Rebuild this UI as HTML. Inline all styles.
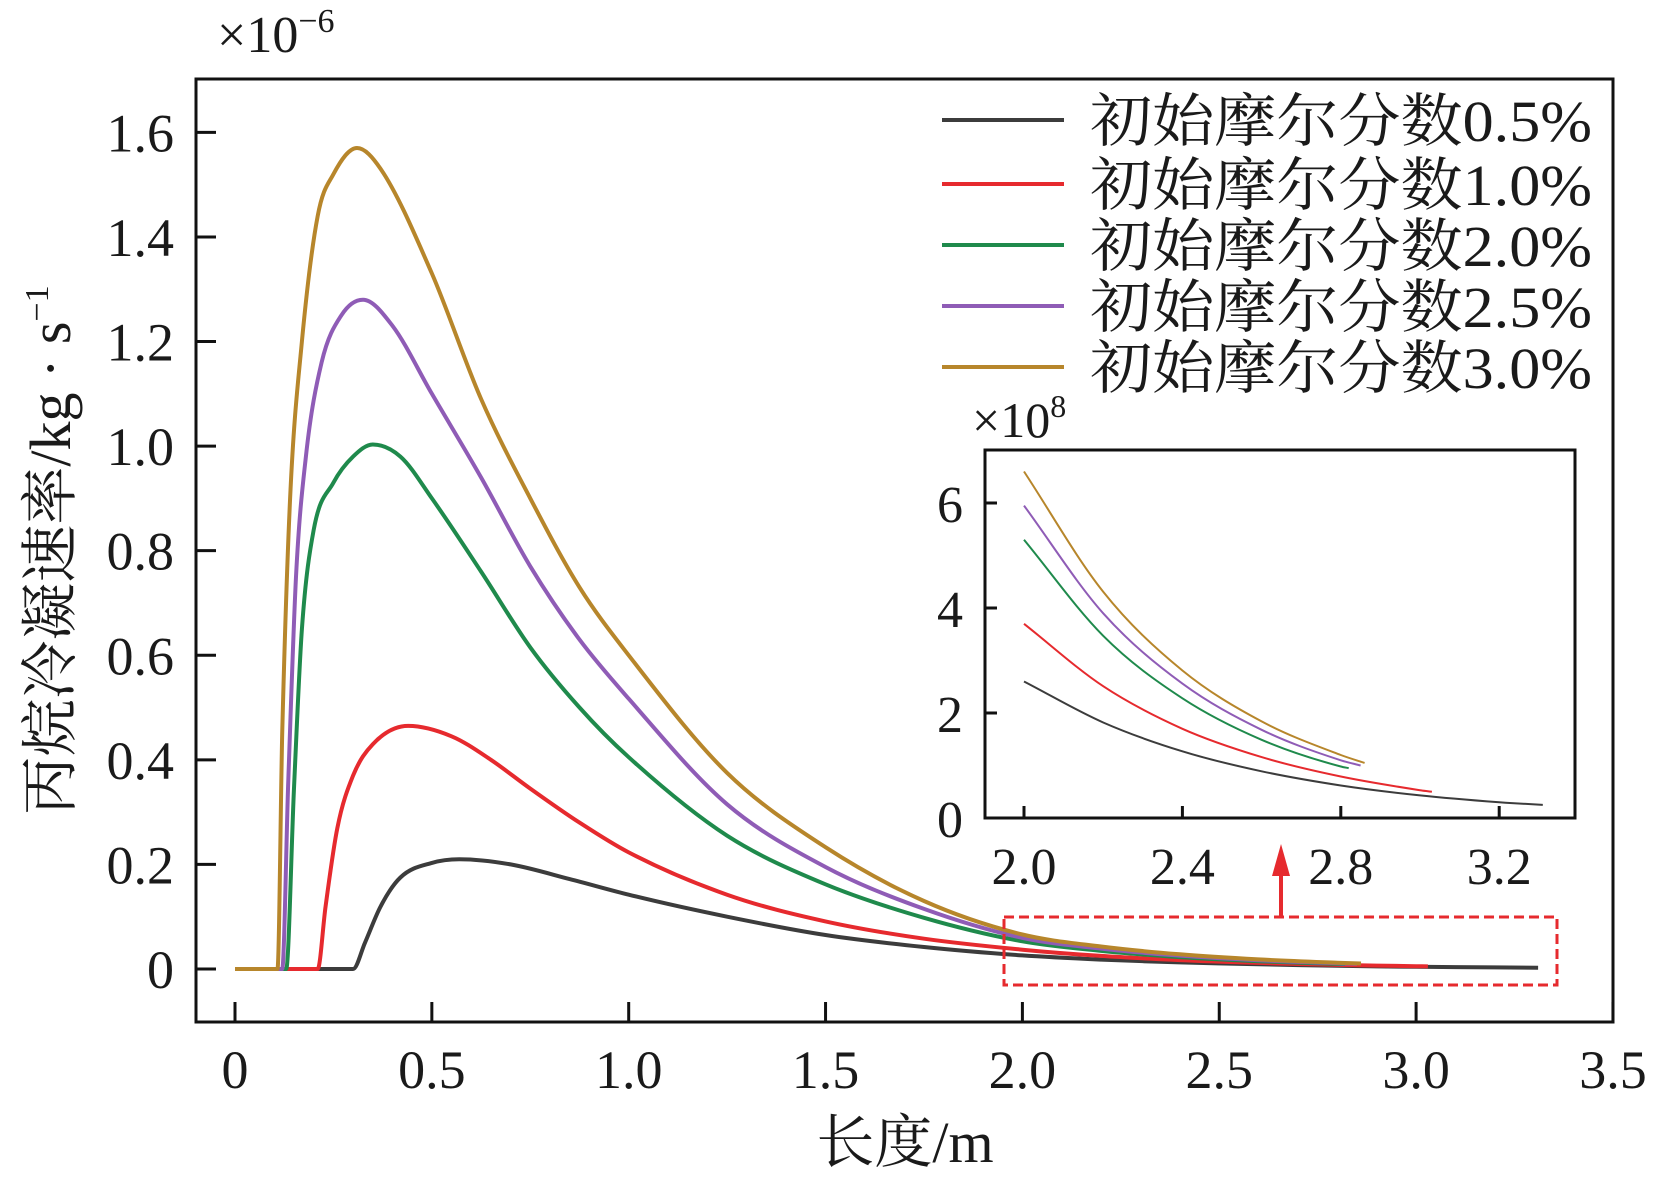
<!DOCTYPE html>
<html><head><meta charset="utf-8"><style>
html,body{margin:0;padding:0;background:#fff}
svg{display:block}
text{font-family:"Liberation Serif","Noto Serif CJK SC",serif;fill:#1a1a1a}
</style></head><body>
<svg id="chart" width="1659" height="1182" viewBox="0 0 1659 1182" xmlns="http://www.w3.org/2000/svg">
<g id="main"></g>
<g id="inset"></g>
<g id="legend"></g>
</svg>
<script>
const seriesNames = ["初始摩尔分数0.5%","初始摩尔分数1.0%","初始摩尔分数2.0%","初始摩尔分数2.5%","初始摩尔分数3.0%"];
const seriesColors = ["#3c3c3c","#e62a2e","#1f8a4c","#8f5cb6","#b7862b"];
const xTicks = [0,0.5,1.0,1.5,2.0,2.5,3.0,3.5];
const xTickLabels = ["0","0.5","1.0","1.5","2.0","2.5","3.0","3.5"];
const yTicks = [0,0.2,0.4,0.6,0.8,1.0,1.2,1.4,1.6];
const yTickLabels = ["0","0.2","0.4","0.6","0.8","1.0","1.2","1.4","1.6"];
const s05x = [0,0.3,0.33,0.37,0.42,0.5,0.57,0.7,0.85,1.0,1.25,1.5,1.75,2.0,2.2,2.4,2.6,2.8,3.0,3.2,3.31];
const s05y = [0,0,0.05,0.12,0.175,0.203,0.21,0.2,0.172,0.142,0.1,0.065,0.042,0.026,0.018,0.0127,0.0089,0.0062,0.0043,0.003,0.0025];
const s10x = [0,0.21,0.23,0.26,0.3,0.35,0.44,0.55,0.65,0.75,0.875,1.0,1.25,1.5,1.75,2.0,2.2,2.4,2.6,2.8,3.0,3.03];
const s10y = [0,0,0.12,0.27,0.37,0.43,0.465,0.445,0.4,0.345,0.28,0.223,0.142,0.091,0.058,0.037,0.025,0.017,0.0116,0.0079,0.0053,0.005];
const s20x = [0,0.13,0.15,0.17,0.2,0.25,0.3,0.35,0.42,0.5,0.625,0.75,0.875,1.0,1.25,1.5,1.75,2.0,2.2,2.4,2.6,2.8,2.82];
const s20y = [0,0,0.35,0.65,0.84,0.93,0.98,1.003,0.98,0.9,0.76,0.615,0.5,0.405,0.255,0.162,0.098,0.053,0.0347,0.0228,0.0149,0.0098,0.0095];
const s25x = [0,0.12,0.135,0.155,0.18,0.22,0.27,0.325,0.4,0.5,0.625,0.75,0.875,1.0,1.25,1.5,1.75,2.0,2.2,2.4,2.6,2.8,2.85];
const s25y = [0,0,0.35,0.75,0.98,1.16,1.25,1.28,1.23,1.1,0.94,0.77,0.63,0.517,0.315,0.195,0.115,0.0595,0.039,0.0256,0.0168,0.011,0.01];
const s30x = [0,0.108,0.12,0.14,0.17,0.21,0.25,0.31,0.37,0.5,0.625,0.75,0.875,1.0,1.25,1.5,1.75,2.0,2.2,2.4,2.6,2.8,2.86];
const s30y = [0,0,0.45,0.9,1.2,1.44,1.52,1.57,1.53,1.33,1.09,0.9,0.73,0.6,0.375,0.233,0.13,0.066,0.0431,0.0281,0.0184,0.012,0.0105];
const insetXTicks = [2.0,2.4,2.8,3.2];
const insetXTickLabels = ["2.0","2.4","2.8","3.2"];
const insetYTicks = [0,2,4,6];
const insetYTickLabels = ["0","2","4","6"];
const i05x = [2.0,2.2,2.4,2.6,2.8,3.0,3.2,3.31];
const i05y = [2.6,1.82,1.27,0.89,0.62,0.43,0.3,0.25];
const i10x = [2.0,2.2,2.4,2.6,2.8,3.0,3.03];
const i10y = [3.7,2.51,1.7,1.16,0.79,0.53,0.5];
const i20x = [2.0,2.2,2.4,2.6,2.8,2.82];
const i20y = [5.3,3.47,2.28,1.49,0.98,0.95];
const i25x = [2.0,2.2,2.4,2.6,2.8,2.85];
const i25y = [5.95,3.9,2.56,1.68,1.1,1.0];
const i30x = [2.0,2.2,2.4,2.6,2.8,2.86];
const i30y = [6.6,4.31,2.81,1.84,1.2,1.05];

const NS="http://www.w3.org/2000/svg";
function mk(parent,tag,attrs,txt){const e=document.createElementNS(NS,tag);for(const k in attrs)e.setAttribute(k,attrs[k]);if(txt!==undefined)e.textContent=txt;parent.appendChild(e);return e;}
// monotone cubic path (Fritsch-Carlson)
function monoPath(px,py){
  const n=px.length;if(n<2)return '';
  const d=[],m=new Array(n);
  for(let i=0;i<n-1;i++)d.push((py[i+1]-py[i])/(px[i+1]-px[i]));
  m[0]=d[0];m[n-1]=d[n-2];
  for(let i=1;i<n-1;i++){m[i]=(d[i-1]*d[i]<=0)?0:(d[i-1]+d[i])/2;}
  for(let i=0;i<n-1;i++){
    if(d[i]===0){m[i]=0;m[i+1]=0;continue;}
    const a=m[i]/d[i],b=m[i+1]/d[i],s=a*a+b*b;
    if(s>9){const t=3/Math.sqrt(s);m[i]=t*a*d[i];m[i+1]=t*b*d[i];}
  }
  let p='M'+px[0].toFixed(1)+','+py[0].toFixed(1);
  for(let i=0;i<n-1;i++){
    const h=(px[i+1]-px[i])/3;
    p+=' C'+(px[i]+h).toFixed(1)+','+(py[i]+m[i]*h).toFixed(1)+' '+(px[i+1]-h).toFixed(1)+','+(py[i+1]-m[i+1]*h).toFixed(1)+' '+px[i+1].toFixed(1)+','+py[i+1].toFixed(1);
  }
  return p;
}

// main axes
const L=196,T=79,R=1613,B=1022;
const X=v=>235+v*393.7;
const Y=v=>969-v*522.9;
const main=document.getElementById('main');
const mainS=[[s05x,s05y],[s10x,s10y],[s20x,s20y],[s25x,s25y],[s30x,s30y]];
mainS.forEach((s,i)=>{
  const p=mk(main,'path',{d:monoPath(s[0].map(X),s[1].map(Y)),fill:'none',stroke:seriesColors[i],'stroke-width':4,'stroke-linejoin':'round'});
  
  
});
const fr=mk(main,'rect',{x:L,y:T,width:R-L,height:B-T,fill:'none',stroke:'#111','stroke-width':3});


xTicks.forEach((v,i)=>{
  mk(main,'line',{x1:X(v),x2:X(v),y1:B,y2:B-20,stroke:'#111','stroke-width':3});
  const t=mk(main,'text',{x:X(v),y:1088,'font-size':54,'text-anchor':'middle'},xTickLabels[i]);
  
  
});
yTicks.forEach((v,i)=>{
  mk(main,'line',{x1:L,x2:L+20,y1:Y(v),y2:Y(v),stroke:'#111','stroke-width':3});
  const t=mk(main,'text',{x:174,y:Y(v)+19,'font-size':54,'text-anchor':'end'},yTickLabels[i]);
  
  
});
const xt=mk(main,'text',{x:905,y:1162,'font-size':58,'text-anchor':'middle'},'长度/m');


const yt=mk(main,'text',{x:0,y:0,'font-size':58,'text-anchor':'middle',transform:'translate(70,550) rotate(-90)'});


yt.innerHTML='丙烷冷凝速率/kg · s<tspan dy="-22" font-size="34">−1</tspan>';
const sc=mk(main,'text',{x:217,y:52,'font-size':52});


sc.innerHTML='×10<tspan dy="-20" font-size="34">−6</tspan>';
// dashed box + arrow
const db=mk(main,'rect',{x:1004,y:917,width:553,height:68,fill:'none',stroke:'#e62a2e','stroke-width':3,'stroke-dasharray':'10,5'});


mk(main,'line',{x1:1281,y1:917,x2:1281,y2:868,stroke:'#e62a2e','stroke-width':4});
const ar=mk(main,'polygon',{points:'1272,876 1290,876 1281,844',fill:'#e62a2e'});



// inset
const IL=985,IT=450,IR=1575,IB=818;
const IX=v=>1024+(v-2.0)*396;
const IY=v=>818-v*52.5;
const inset=document.getElementById('inset');
mk(inset,'rect',{x:IL,y:IT,width:IR-IL,height:IB-IT,fill:'#fff'});
const insS=[[i05x,i05y],[i10x,i10y],[i20x,i20y],[i25x,i25y],[i30x,i30y]];
insS.forEach((s,i)=>{
  const p=mk(inset,'path',{d:monoPath(s[0].map(IX),s[1].map(IY)),fill:'none',stroke:seriesColors[i],'stroke-width':2});
  
  
});
const ifr=mk(inset,'rect',{x:IL,y:IT,width:IR-IL,height:IB-IT,fill:'none',stroke:'#111','stroke-width':3});


insetXTicks.forEach((v,i)=>{
  mk(inset,'line',{x1:IX(v),x2:IX(v),y1:IB,y2:IB-12,stroke:'#111','stroke-width':3});
  const t=mk(inset,'text',{x:IX(v),y:884,'font-size':52,'text-anchor':'middle'},insetXTickLabels[i]);
  
  
});
insetYTicks.forEach((v,i)=>{
  mk(inset,'line',{x1:IL,x2:IL+12,y1:IY(v),y2:IY(v),stroke:'#111','stroke-width':3});
  const t=mk(inset,'text',{x:963,y:IY(v)+19,'font-size':52,'text-anchor':'end'},insetYTickLabels[i]);
  
  
});
const isc=mk(inset,'text',{x:972,y:437,'font-size':50});


isc.innerHTML='×10<tspan dy="-20" font-size="32">8</tspan>';

// legend
const leg=document.getElementById('legend');
const rowsY=[120,184,245,306,367];
seriesNames.forEach((n,i)=>{
  const g=mk(leg,'g',{});
  
  
  mk(g,'line',{x1:942,x2:1064,y1:rowsY[i],y2:rowsY[i],stroke:seriesColors[i],'stroke-width':4});
  mk(g,'text',{x:1090,y:rowsY[i]+21,'font-size':58,textLength:502,lengthAdjust:'spacingAndGlyphs'},n);
});
</script>
</body></html>
